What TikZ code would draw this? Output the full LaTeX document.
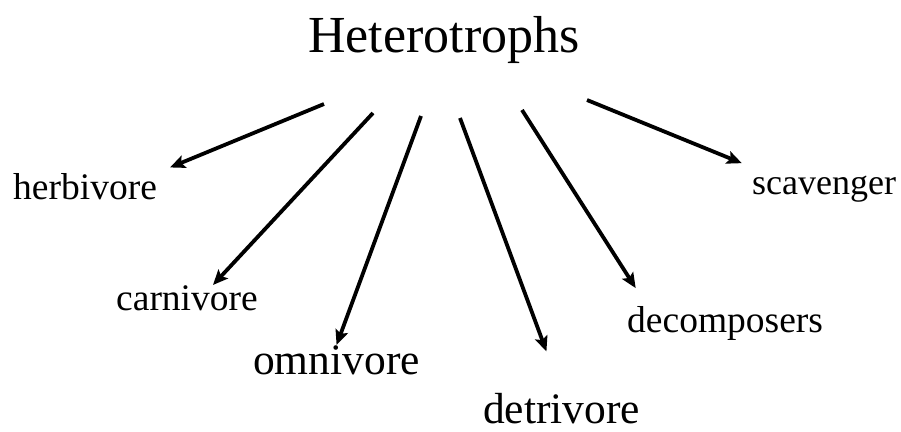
\documentclass[tikz,border=0pt]{standalone}
\usepackage{fontspec}
\setmainfont{Liberation Serif}
\usetikzlibrary{arrows.meta}

\begin{document}
\begin{tikzpicture}[x=1pt,y=-1pt,>={Stealth[length=15pt,width=13pt,inset=3pt]},
  feed/.style={->,line width=3.8pt},
  kind/.style={anchor=base west,inner sep=0pt,font=\fontsize{37.5}{44}\selectfont},
  bigkind/.style={kind,font=\fontsize{43.5}{52}\selectfont}]
  \useasboundingbox (0,0) rectangle (901,431);
  \node[anchor=base west,inner sep=0pt,font=\fontsize{52}{62}\selectfont] (hetero) at (308,52) {Heterotrophs};
  \node[kind] (herb) at (13,199) {herbivore};
  \node[kind] (carn) at (116,310) {carnivore};
  \node[bigkind] (omni) at (253,374) {omnivore};
  \node[bigkind] (detr) at (483,423) {detrivore};
  \node[kind] (decomp) at (627,332) {decomposers};
  \node[kind,font=\fontsize{36}{44}\selectfont] (scav) at (752,194) {scavenger};
  % starting points of the arrows, fanned out below the title
  \foreach \s/\x/\y in {s1/324/104,s2/373/113,s3/421/116,s4/460/118,s5/522/110,s6/587/100}{
    \coordinate (\s) at (\x,\y);
  }
  \draw[feed,shorten >=14pt] (s1) -- (herb.north east);
  \draw[feed] (s2) -- ([xshift=26pt]carn.north);
  \draw[feed] (s3) -- (omni.north);
  \draw[feed,shorten >=44pt] (s4) -- (detr.north);
  \draw[feed,shorten >=21pt] (s5) -- ([xshift=20pt]decomp.north west);
  \draw[feed,shorten >=11pt] (s6) -- ([yshift=8pt]scav.north west);
\end{tikzpicture}
\end{document}
